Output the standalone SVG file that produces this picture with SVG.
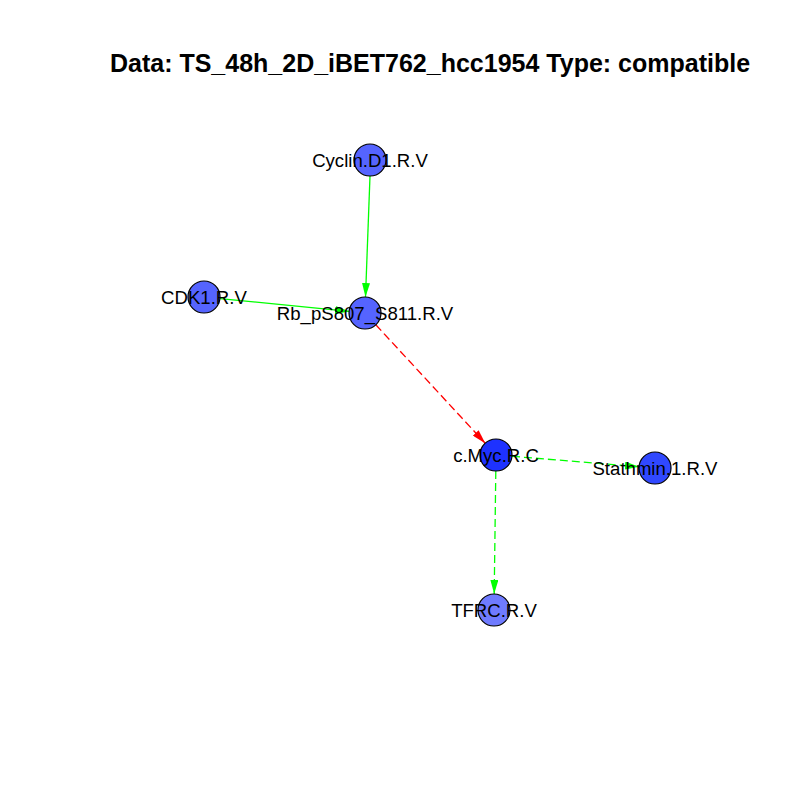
<svg xmlns="http://www.w3.org/2000/svg" width="800" height="800" viewBox="0 0 800 800">
<style>
.title{font-family:"Liberation Sans",Arial,sans-serif;font-weight:bold;font-size:25px;fill:#000}
.lbl{font-family:"Liberation Sans",Arial,sans-serif;font-size:18.6px;fill:#000;text-anchor:middle}
.node{stroke:#000;stroke-width:1.2}
.eg{stroke:#00FF00;stroke-width:1.3;fill:none}
.er{stroke:#FF0000;stroke-width:1.3;fill:none}
.dash{stroke-dasharray:8 4}
</style>
<defs>
<marker id="ag" viewBox="0 0 14 8" refX="14" refY="4" markerWidth="14" markerHeight="8" markerUnits="userSpaceOnUse" orient="auto"><path d="M0,0 L14,4 L0,8 z" fill="#00FF00"/></marker>
<marker id="ar" viewBox="0 0 14 8" refX="14" refY="4" markerWidth="14" markerHeight="8" markerUnits="userSpaceOnUse" orient="auto"><path d="M0,0 L14,4 L0,8 z" fill="#FF0000"/></marker>
</defs>
<rect width="800" height="800" fill="#fff"/>
<text class="title" x="430" y="72" text-anchor="middle">Data: TS_48h_2D_iBET762_hcc1954 Type: compatible</text>
<g id="edges">
<line class="eg" x1="370" y1="176" x2="365.5" y2="297" marker-end="url(#ag)"/>
<line class="eg" x1="220" y1="298.6" x2="349.1" y2="311.4" marker-end="url(#ag)"/>
<line class="er dash" x1="375.8" y1="324.8" x2="485.2" y2="443.2" marker-end="url(#ar)"/>
<line class="eg dash" x1="512" y1="456.3" x2="639" y2="466.7" marker-end="url(#ag)"/>
<line class="eg dash" x1="495.8" y1="471" x2="494.2" y2="594" marker-end="url(#ag)"/>
</g>
<g id="n-cyclin"><circle class="node" cx="370" cy="160" r="16" fill="#5564FF"/><text class="lbl" x="370" y="166.5">Cyclin.D1.R.V</text></g>
<g id="n-cdk1"><circle class="node" cx="204" cy="297" r="16" fill="#5564FF"/><text class="lbl" x="204" y="303.5">CDK1.R.V</text></g>
<g id="n-rb"><circle class="node" cx="365" cy="313" r="16" fill="#5564FF"/><text class="lbl" x="365" y="319.5">Rb_pS807_S811.R.V</text></g>
<g id="n-cmyc"><circle class="node" cx="496" cy="455" r="16" fill="#1E32FF"/><text class="lbl" x="496" y="461.5">c.Myc.R.C</text></g>
<g id="n-stathmin"><circle class="node" cx="655" cy="468" r="16" fill="#3048FF"/><text class="lbl" x="655" y="474.5">Stathmin.1.R.V</text></g>
<g id="n-tfrc"><circle class="node" cx="494" cy="610" r="16" fill="#6F7BFF"/><text class="lbl" x="494" y="616.5">TFRC.R.V</text></g>
</svg>
